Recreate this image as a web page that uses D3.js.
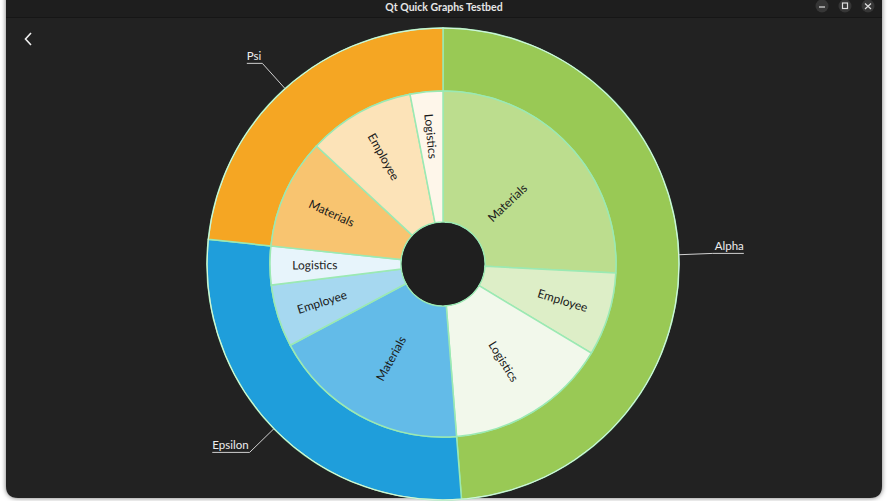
<!DOCTYPE html>
<html><head><meta charset="utf-8">
<script src="https://cdn.jsdelivr.net/npm/d3@7"></script>
<style>
html,body{margin:0;padding:0;background:#ffffff;overflow:hidden;}
svg{display:block;}
</style></head>
<body>
<svg id="chart" width="888" height="501"></svg>
<script>
// ---- data ----
const groups = ["Alpha", "Epsilon", "Psi"];
const subCategories = ["Materials", "Employee", "Logistics"];
const alphaValues = [93, 28, 54.5];
const epsilonValues = [66.5, 21, 13];
const psiValues = [37, 36, 11];
const groupColors = ["#99c955", "#1f9edb", "#f5a623"];
const alphaColors = ["#bcdd8e", "#ddeec7", "#f2f8eb"];
const epsilonColors = ["#63bbe8", "#a6d8f0", "#e7f4fb"];
const psiColors = ["#f8c470", "#fce3b8", "#fef6ea"];

const subValues = [alphaValues, epsilonValues, psiValues];
const subColors = [alphaColors, epsilonColors, psiColors];
const outerData = groups.map((g, i) => ({name: g, value: d3.sum(subValues[i]), color: groupColors[i]}));
const innerData = [];
groups.forEach((g, i) => subCategories.forEach((s, j) =>
  innerData.push({group: g, name: s, value: subValues[i][j], color: subColors[i][j]})));

const W = 888, H = 501;
const svg = d3.select("#chart");

// window frame
const defs = svg.append("defs");
const grad = defs.append("filter").attr("id", "shadow").attr("x", "-5%").attr("y", "-5%").attr("width", "110%").attr("height", "110%");
grad.append("feDropShadow").attr("dx", 0).attr("dy", 0).attr("stdDeviation", 2.5).attr("flood-color", "#000").attr("flood-opacity", 0.55);
const winX = 6, winW = 876;
svg.append("path")
  .attr("d", `M${winX},-10 H${winX + winW} V${H - 15} Q${winX + winW},${H - 3} ${winX + winW - 12},${H - 3} H${winX + 12} Q${winX},${H - 3} ${winX},${H - 15} Z`)
  .attr("fill", "#242424").attr("filter", "url(#shadow)");
svg.append("rect").attr("x", winX).attr("y", 0).attr("width", winW).attr("height", 17).attr("fill", "#1e1e1e");
svg.append("line").attr("x1", winX).attr("x2", winX + winW).attr("y1", 17.5).attr("y2", 17.5).attr("stroke", "#161616");
svg.append("text").attr("x", 444).attr("y", 10.5).attr("text-anchor", "middle")
  .attr("font-family", "Lato, 'Open Sans', sans-serif").attr("font-weight", "bold").attr("font-size", 10.5)
  .attr("fill", "#e6e6e6").text("Qt Quick Graphs Testbed");
const btnX = [822, 845, 868];
btnX.forEach(x => svg.append("circle").attr("cx", x).attr("cy", 6).attr("r", 6.5).attr("fill", "#363636"));
svg.append("line").attr("x1", 819).attr("x2", 825).attr("y1", 7).attr("y2", 7).attr("stroke", "#ddd").attr("stroke-width", 1.2);
svg.append("rect").attr("x", 842.5).attr("y", 3).attr("width", 5).attr("height", 5.5).attr("fill", "none").attr("stroke", "#ddd").attr("stroke-width", 1.2);
svg.append("path").attr("d", "M865,3.5 L871,9 M871,3.5 L865,9").attr("stroke", "#ddd").attr("stroke-width", 1.2);
// back arrow
svg.append("path").attr("d", "M31,33 L25.5,39 L31,45").attr("fill", "none").attr("stroke", "#f0f0f0").attr("stroke-width", 1.6);

// ---- pie ----
const cx = 443, cy = 264;
const rHole = 42, rMid = 173, rOuter = 236;
const g = svg.append("g").attr("transform", `translate(${cx},${cy})`);
const pie = d3.pie().sort(null).value(d => d.value).startAngle(0).endAngle(2 * Math.PI);
const outerArcs = pie(outerData);
const innerArcs = pie(innerData);
const arcOuter = d3.arc().innerRadius(rMid).outerRadius(rOuter);
const arcInner = d3.arc().innerRadius(rHole).outerRadius(rMid);
const borderColor = "#9be9b3";

g.selectAll("path.outer").data(outerArcs).join("path").attr("class", "outer")
  .attr("d", arcOuter).attr("fill", d => d.data.color)
  .attr("stroke", borderColor).attr("stroke-width", 1.5);
g.selectAll("path.inner").data(innerArcs).join("path").attr("class", "inner")
  .attr("d", arcInner).attr("fill", d => d.data.color)
  .attr("stroke", borderColor).attr("stroke-width", 1.5);
g.append("circle").attr("r", rOuter).attr("fill", "none").attr("stroke", "#d8f5dc").attr("stroke-width", 1);
g.append("circle").attr("r", rHole - 0.8).attr("fill", "#1f1f1f");

// inner labels (normal to the circle)
const labelFont = "Lato, 'Open Sans', sans-serif";
innerArcs.forEach(d => {
  const span = d.endAngle - d.startAngle;
  const mid = (d.startAngle + d.endAngle) / 2;
  const r = 129 * Math.cos(span / 2);
  const x = r * Math.sin(mid), y = -r * Math.cos(mid);
  let rot = mid * 180 / Math.PI - 90;
  if (rot > 90) rot -= 180;
  g.append("text").attr("transform", `translate(${x},${y}) rotate(${rot})`)
    .attr("text-anchor", "middle").attr("dy", "0.35em")
    .attr("font-family", labelFont).attr("font-size", 12).attr("fill", "#1a1a1a")
    .text(d.data.name);
});

// outer labels with leader lines
const leadLen = 34;
outerArcs.forEach(d => {
  const mid = (d.startAngle + d.endAngle) / 2;
  const sx = rOuter * Math.sin(mid), sy = -rOuter * Math.cos(mid);
  const ex = (rOuter + leadLen) * Math.sin(mid), ey = -(rOuter + leadLen) * Math.cos(mid);
  const right = Math.sin(mid) > 0;
  const t = g.append("text").attr("font-family", labelFont).attr("font-size", 11.5).attr("fill", "#eeeeee")
    .text(d.data.name);
  const tw = t.node().getComputedTextLength();
  const hx = right ? ex + tw + 2 : ex - tw - 1;
  t.attr("x", right ? ex + 2 : ex - 1).attr("y", ey - 3).attr("text-anchor", right ? "start" : "end");
  g.append("path").attr("d", `M${sx},${sy} L${ex},${ey} L${hx},${ey}`)
    .attr("fill", "none").attr("stroke", "#d0d0d0").attr("stroke-width", 1);
});
</script>
</body></html>
